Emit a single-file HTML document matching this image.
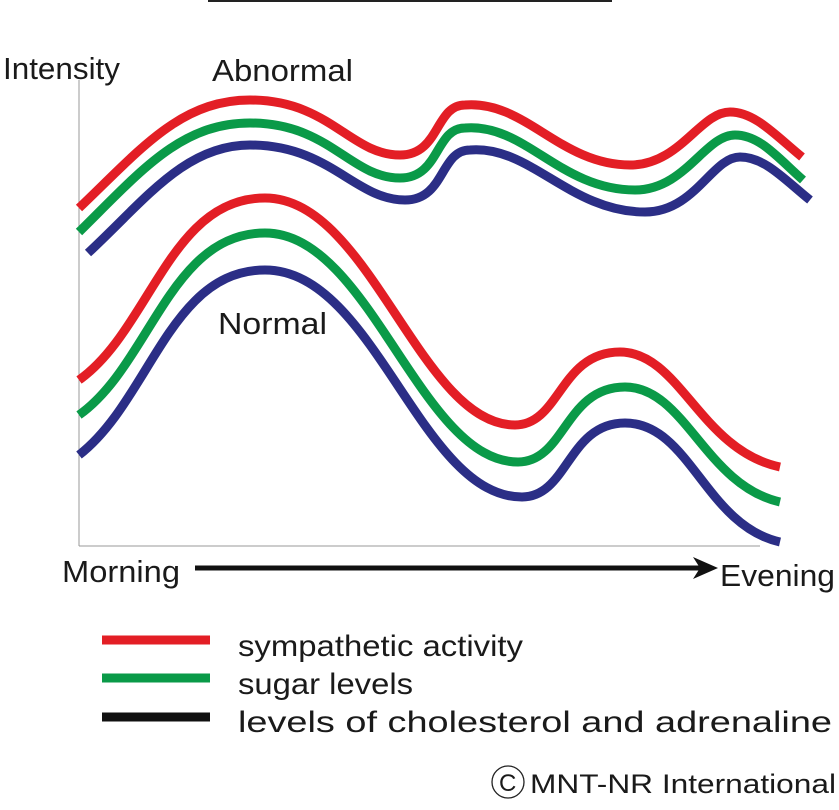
<!DOCTYPE html>
<html><head><style>
html,body{margin:0;padding:0;background:#fff;}
svg{display:block;}
text{font-family:"Liberation Sans",Arial,sans-serif;fill:#1a1a1a;}
</style></head><body>
<svg width="839" height="810" viewBox="0 0 839 810" xmlns="http://www.w3.org/2000/svg">
<line x1="208" y1="1" x2="612" y2="1" stroke="#222" stroke-width="2"/>
<line x1="79" y1="80" x2="79" y2="546" stroke="#999" stroke-width="1"/>
<line x1="79" y1="546" x2="760" y2="546" stroke="#999" stroke-width="1"/>
<text x="3" y="79" font-size="31" textLength="117" lengthAdjust="spacingAndGlyphs">Intensity</text>
<text x="212" y="81" font-size="31" textLength="141" lengthAdjust="spacingAndGlyphs">Abnormal</text>
<text x="218" y="334" font-size="31" textLength="109" lengthAdjust="spacingAndGlyphs">Normal</text>
<g fill="none" stroke-width="9" stroke-linecap="butt">
<path stroke="#e31e25" d="M79,208 C140,150 180,100 250,100 C330,100 350,155 400,155 C440,155 435,105 465,105 C525,100 560,165 630,165 C680,165 700,112 730,112 C755,112 775,135 802,157"/>
<path stroke="#0a9a48" d="M79,232 C140,172 180,123 250,123 C330,123 350,178 400,178 C440,178 435,128 465,128 C525,123 560,190 635,190 C685,190 705,135 735,135 C760,135 778,158 803,180"/>
<path stroke="#2b2e86" d="M88,253 C145,200 185,145 250,145 C330,145 355,200 405,200 C445,200 440,150 470,150 C530,145 570,212 645,212 C695,212 712,157 740,157 C765,157 785,180 810,200"/>
<path stroke="#e31e25" d="M79,380 C150,330 170,198 265,198 C370,198 420,425 515,425 C560,425 560,352 620,352 C680,352 700,450 780,467"/>
<path stroke="#0a9a48" d="M79,415 C150,365 170,233 265,233 C370,233 420,462 518,462 C565,462 565,387 625,387 C685,387 705,485 780,502"/>
<path stroke="#2b2e86" d="M79,455 C150,400 170,270 265,270 C375,270 420,497 522,497 C568,497 568,423 625,423 C690,423 705,525 780,542"/>
</g>
<text x="62" y="582" font-size="31" textLength="118" lengthAdjust="spacingAndGlyphs">Morning</text>
<line x1="195" y1="568" x2="700" y2="568" stroke="#111" stroke-width="5"/>
<polygon points="693,557 718,568 693,579 700,568" fill="#111"/>
<text x="720" y="586" font-size="31" textLength="115" lengthAdjust="spacingAndGlyphs">Evening</text>
<line x1="102" y1="640" x2="210" y2="640" stroke="#e31e25" stroke-width="9"/>
<line x1="102" y1="678" x2="210" y2="678" stroke="#0a9a48" stroke-width="9"/>
<line x1="102" y1="717" x2="210" y2="717" stroke="#111" stroke-width="9"/>
<text x="238" y="656" font-size="30" textLength="285" lengthAdjust="spacingAndGlyphs">sympathetic activity</text>
<text x="238" y="694" font-size="30" textLength="175" lengthAdjust="spacingAndGlyphs">sugar levels</text>
<text x="238" y="732" font-size="30" textLength="594" lengthAdjust="spacingAndGlyphs">levels of cholesterol and adrenaline</text>
<circle cx="508" cy="782" r="16" fill="none" stroke="#222" stroke-width="1.3"/>
<text x="499" y="791" font-size="24">C</text>
<text x="530" y="793" font-size="27" textLength="306" lengthAdjust="spacingAndGlyphs">MNT-NR International</text>
</svg>
</body></html>
